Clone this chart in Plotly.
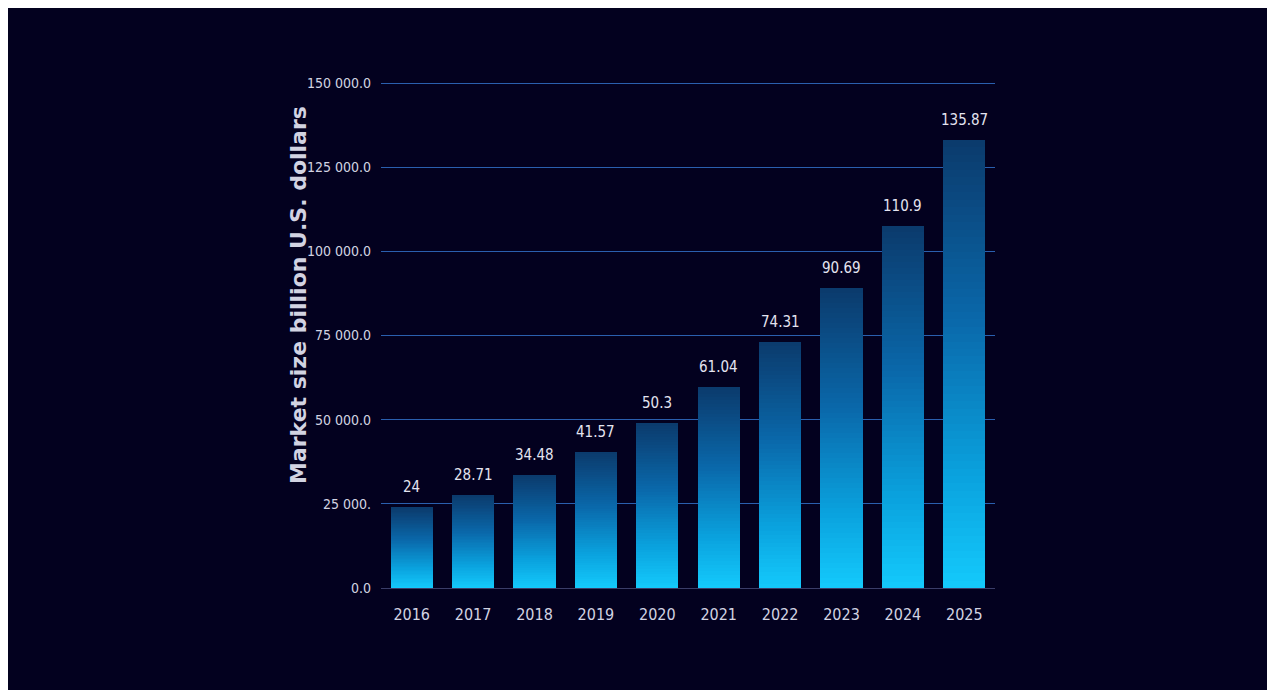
import plotly.graph_objects as go

years = ["2016", "2017", "2018", "2019", "2020", "2021", "2022", "2023", "2024", "2025"]
bar_heights = [24000, 27700, 33600, 40400, 49000, 59700, 73100, 89100, 107500, 133100]
bar_labels = ["24", "28.71", "34.48", "41.57", "50.3", "61.04", "74.31", "90.69", "110.9", "135.87"]
y_tickvals = [0, 25000, 50000, 75000, 100000, 125000, 150000]
y_ticktext = ["0.0", "25 000.", "50 000.0", "75 000.0", "100 000.0", "125 000.0", "150 000.0"]

# the page body adds an 8px white margin on the top and left
W, H = 1275, 690
ML, MR, MT, MB = 373, 288, 74, 110
BG = "#03011f"
TXT = "#d2d3e2"
COND = "DejaVu Sans Condensed, Liberation Sans Narrow, Roboto Condensed, Roboto, sans-serif"

# gradient stops: fraction from bottom -> colour
stops = [(0.0, (20, 202, 252)), (0.25, (10, 162, 222)), (0.6, (10, 104, 170)), (1.0, (11, 58, 108))]


def grad(f):
    for (f0, c0), (f1, c1) in zip(stops[:-1], stops[1:]):
        if f0 <= f <= f1:
            t = (f - f0) / (f1 - f0)
            c = [round(a + (b - a) * t) for a, b in zip(c0, c1)]
            return "rgb(%d,%d,%d)" % tuple(c)
    return "rgb(%d,%d,%d)" % stops[-1][1]


N = 60
fig = go.Figure()
for k in range(N):
    fig.add_trace(go.Bar(
        x=years,
        y=[h / N for h in bar_heights],
        marker=dict(color=grad((k + 0.5) / N), line=dict(width=0)),
        hoverinfo="skip",
        showlegend=False,
    ))

for i, (h, lab) in enumerate(zip(bar_heights, bar_labels)):
    fig.add_annotation(x=i, y=h, text=lab, showarrow=False, yanchor="middle", yshift=20,
                       font=dict(family=COND, size=15, color="#e4e4f0"))

fig.add_annotation(
    xref="paper", yref="paper", x=(290 - ML) / (W - ML - MR), y=(H - MB - 287) / (H - MT - MB),
    text="Market size billion U.S. dollars", textangle=-90, showarrow=False,
    xanchor="center", yanchor="middle",
    font=dict(family="DejaVu Sans", size=22, color=TXT, weight="bold"),
)

fig.update_layout(
    width=W, height=H,
    margin=dict(l=ML, r=MR, t=MT, b=MB),
    paper_bgcolor=BG, plot_bgcolor=BG,
    barmode="stack", bargap=0.31,
    xaxis=dict(
        type="category", categoryorder="array", categoryarray=years,
        showgrid=False, showline=True, linecolor="#3a3d68", linewidth=1,
        ticks="", tickfont=dict(family=COND, size=16, color=TXT), ticklabelstandoff=12,
    ),
    yaxis=dict(
        range=[0, 150300], tickvals=y_tickvals, ticktext=y_ticktext,
        showgrid=True, gridcolor="#2a5fae", gridwidth=1, zeroline=False,
        ticks="", tickfont=dict(family=COND, size=14, color=TXT), ticklabelstandoff=9,
    ),
)

fig.write_html("out.html")
